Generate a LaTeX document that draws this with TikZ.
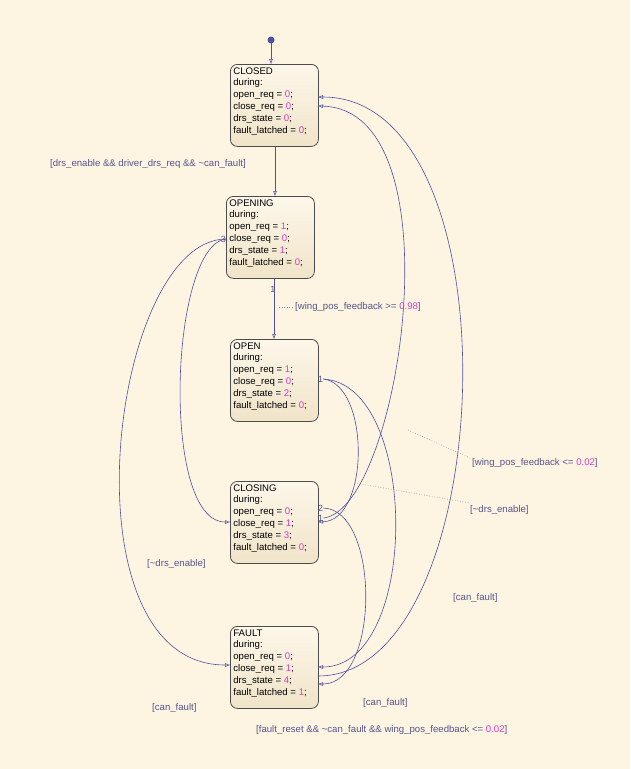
\documentclass[tikz,border=0pt]{standalone}
\usepackage{fontspec}
\setmainfont{Liberation Sans}
\usetikzlibrary{arrows.meta}
\definecolor{bg}{RGB}{253,244,226}
\definecolor{edge}{RGB}{80,80,160}
\definecolor{lbl}{RGB}{85,85,140}
\definecolor{num}{RGB}{215,60,200}
\definecolor{sttop}{RGB}{253,247,234}
\definecolor{stbot}{RGB}{240,228,200}
\newcommand{\nm}[1]{\textcolor{num}{#1}}
\newcommand{\stbody}[5]{\parbox[t][76pt][t]{82pt}{#1\\during:\\open\_req = \nm{#2};\\close\_req = \nm{#3};\\drs\_state = \nm{#4};\\fault\_latched = \nm{#5};}}
\tikzset{
  state/.style={draw=black!70, rounded corners=7pt, top color=sttop, bottom color=stbot,
    inner sep=3pt, line width=0.8pt, font=\fontsize{9.6}{11.8}\selectfont},
  trans/.style={draw=edge, line width=0.6pt, -{Triangle[open,length=5pt,width=3.5pt]}},
  guard/.style={text=lbl, anchor=west, inner sep=0pt, font=\fontsize{9.6}{11}\selectfont},
  leader/.style={draw=lbl!70, dotted, line width=0.6pt},
  prio/.style={text=lbl, inner sep=0pt, font=\fontsize{9}{10}\selectfont}
}
\begin{document}
\begin{tikzpicture}[x=1pt, y=-1pt]
    \fill[bg] (0,0) rectangle (630,769);
    \useasboundingbox (0,0) rectangle (630,769);

    % states
    \node[state, anchor=north west] (closed) at (230,64) {\stbody{CLOSED}{0}{0}{0}{0}};
    \node[state, anchor=north west] (opening) at (226,196) {\stbody{OPENING}{1}{0}{1}{0}};
    \node[state, anchor=north west] (open) at (230,339) {\stbody{OPEN}{1}{0}{2}{0}};
    \node[state, anchor=north west] (closing) at (230,481) {\stbody{CLOSING}{0}{1}{3}{0}};
    \node[state, anchor=north west] (fault) at (230,626) {\stbody{FAULT}{0}{1}{4}{1}};

    % default transition
    \fill[edge] (271,40) circle (3.5) coordinate (init);
    \draw[trans] (init) -- (271,64);

    % forward path
    \draw[trans] (275,147) -- (275,196);
    \draw[trans] (274,279) -- (274,339);
    \node[prio] (p1) at (273,289) {1};
    \coordinate (l1) at (279,307);
    \draw[leader] (l1) -- (294,307);

    % opening -> closing / fault
    \node[prio, anchor=east] (p3) at (226,239) {3};
    \draw[trans] (p3.east) .. controls (170,245) and (160,522) .. (230,522);
    \draw[trans] (p3.east) .. controls (110,240) and (60,665) .. (230,665);

    % open -> closing / fault
    \node[prio, anchor=west] (p4) at (318,379) {1};
    \draw[trans] (p4.east) .. controls (370,385) and (370,520) .. (318,522);
    \draw[trans] (p4.east) .. controls (420,385) and (420,667) .. (318,667);
    \coordinate (l2) at (355,483);
    \draw[leader] (l2) -- (470,503);

    % closing -> fault / closed
    \node[prio, anchor=west] (p5) at (318,508) {2};
    \node[prio, anchor=west] (p6) at (318,518) {1};
    \draw[trans] (p5.east) .. controls (380,510) and (380,684) .. (318,684);
    \draw[trans] (p6.east) .. controls (400,510) and (460,110) .. (318,106);
    \coordinate (l3) at (408,430);
    \draw[leader] (l3) -- (470,458);

    % fault -> closed
    \draw[trans] (318,676) .. controls (500,676) and (520,97) .. (318,97);

    % guards
    \node[guard] (g1) at (50,164) {[drs\_enable \&\& driver\_drs\_req \&\& \textasciitilde can\_fault]};
    \node[guard] (g2) at (295,307) {[wing\_pos\_feedback >= \nm{0.98}]};
    \node[guard] (g3) at (472,463) {[wing\_pos\_feedback <= \nm{0.02}]};
    \node[guard] (g4) at (470,510) {[\textasciitilde drs\_enable]};
    \node[guard] (g5) at (453,598) {[can\_fault]};
    \node[guard] (g6) at (147,564) {[\textasciitilde drs\_enable]};
    \node[guard] (g7) at (152,708) {[can\_fault]};
    \node[guard] (g8) at (363,703) {[can\_fault]};
    \node[guard] (g9) at (256,730) {[fault\_reset \&\& \textasciitilde can\_fault \&\& wing\_pos\_feedback <= \nm{0.02}]};
\end{tikzpicture}
\end{document}
